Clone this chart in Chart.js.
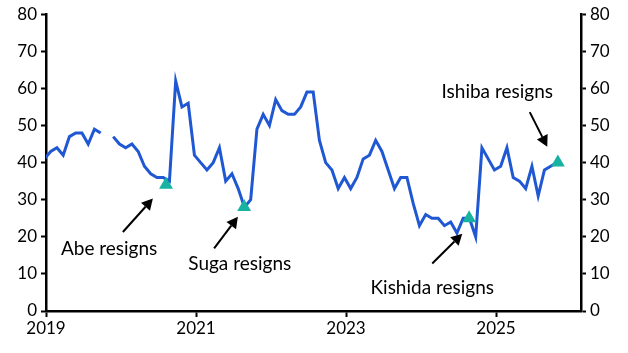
<!DOCTYPE html>
<html>
<head>
<meta charset="utf-8">
<script src="https://cdn.jsdelivr.net/npm/chart.js@4.4.1/dist/chart.umd.min.js"></script>
<style>
  html, body { margin: 0; padding: 0; background: #fff; }
  #wrap { width: 628px; height: 353px; }
</style>
</head>
<body>
<div id="wrap"><canvas id="grafica"></canvas></div>
<script>
// x axis in months since Jan 2019, polls plotted late in their month
const firstMonth = -1;      // Dec 2018
const dayOffset = 0.75;
const approval = [
    41, 43, 44, 42, 47, 48, 48, 45, 49, 48, null, 47, 45,
    44, 45, 43, 39, 37, 36, 36, 35, 62, 55, 56, 42,
    40, 38, 40, 44, 35, 37, 33, 28, 30, 49, 53, 50,
    57, 54, 53, 53, 55, 59, 59, 46, 40, 38, 33, 36,
    33, 36, 41, 42, 46, 43, 38, 33, 36, 36, 29, 23,
    26, 25, 25, 23, 24, 21, 25, 25, 20, 44, 41, 38,
    39, 44, 36, 35, 33, 39, 31, 38, 39, 40
];

const eventos = ["Abe resigns", "Suga resigns", "Kishida resigns", "Ishiba resigns"];
const eventoX = [19.2, 31.7, 67.7, 81.9];
const eventoY = [34, 28, 25, 40];
// label centre and arrow (tail -> tip) in chart units
const textoX = [10.1, 31.0, 61.8, 72.2];
const textoY = [16.7, 12.6, 6.3, 59];
const flechas = [
    [12.3, 21.3, 17.1, 30.3],
    [26.9, 16.9, 30.7, 25.4],
    [61.8, 12.8, 66.6, 20.8],
    [77.4, 53.6, 80.2, 44.3]
];

const yearTicks = [0, 24, 48, 72];
const yearLabels = ["2019", "2021", "2023", "2025"];

const serie = approval.map((v, i) => ({ x: firstMonth + i + dayOffset, y: v }));
const marcas = eventoX.map((x, i) => ({ x: x, y: eventoY[i] }));

const fuente = "Lato, 'Open Sans', sans-serif";

const anotaciones = {
    id: "anotaciones",
    afterDatasetsDraw(chart) {
        const ctx = chart.ctx;
        const sx = chart.scales.x;
        const sy = chart.scales.y;
        ctx.save();
        ctx.fillStyle = "#000";
        ctx.strokeStyle = "#000";
        ctx.font = "19px " + fuente;
        ctx.textAlign = "center";
        ctx.textBaseline = "middle";
        eventos.forEach((t, i) => {
            ctx.fillText(t, sx.getPixelForValue(textoX[i]), sy.getPixelForValue(textoY[i]));
            const f = flechas[i];
            const x1 = sx.getPixelForValue(f[0]), y1 = sy.getPixelForValue(f[1]);
            const x2 = sx.getPixelForValue(f[2]), y2 = sy.getPixelForValue(f[3]);
            const ang = Math.atan2(y2 - y1, x2 - x1);
            const largo = 11, ancho = 6;
            const bx = x2 - largo * Math.cos(ang), by = y2 - largo * Math.sin(ang);
            ctx.lineWidth = 2;
            ctx.beginPath();
            ctx.moveTo(x1, y1);
            ctx.lineTo(bx, by);
            ctx.stroke();
            ctx.beginPath();
            ctx.moveTo(x2, y2);
            ctx.lineTo(bx + ancho * Math.sin(ang), by - ancho * Math.cos(ang));
            ctx.lineTo(bx - ancho * Math.sin(ang), by + ancho * Math.cos(ang));
            ctx.closePath();
            ctx.fill();
        });
        ctx.restore();
    }
};

const ejeY = {
    min: 0,
    max: 80,
    grid: { drawOnChartArea: false, drawTicks: true, tickLength: 5, tickWidth: 2, color: "#000" },
    border: { display: true, color: "#000", width: 2.5 },
    ticks: { stepSize: 10, color: "#000", font: { size: 17, family: fuente }, padding: 4 }
};

new Chart(document.getElementById("grafica").getContext("2d"), {
    type: "line",
    data: {
        datasets: [{
            label: "Eventos",
            data: marcas,
            showLine: false,
            pointStyle: "triangle",
            pointRadius: 8,
            pointBackgroundColor: "#17b2a2",
            pointBorderColor: "#17b2a2",
            pointBorderWidth: 0,
            order: 0
        }, {
            label: "Approval",
            data: serie,
            borderColor: "#1f58d2",
            borderWidth: 3,
            pointRadius: 0,
            tension: 0,
            spanGaps: false,
            order: 1
        }]
    },
    options: {
        responsive: true,
        maintainAspectRatio: false,
        animation: false,
        layout: { padding: { top: 9, bottom: 0, left: 0, right: 0 } },
        plugins: { legend: { display: false }, tooltip: { enabled: false } },
        scales: {
            x: {
                type: "linear",
                min: 0,
                max: 85.6,
                afterBuildTicks(scale) {
                    scale.ticks = yearTicks.map(v => ({ value: v }));
                },
                grid: { drawOnChartArea: false, drawTicks: true, tickLength: 6, tickWidth: 2, color: "#000" },
                border: { display: true, color: "#000", width: 2.5 },
                ticks: {
                    color: "#000",
                    font: { size: 17, family: fuente },
                    maxRotation: 0,
                    autoSkip: false,
                    padding: 1,
                    callback: (v) => yearLabels[yearTicks.indexOf(v)]
                },
                afterFit(scale) { scale.height = 42; }
            },
            y: Object.assign({ position: "left", afterFit(scale) { scale.width = 46; } }, ejeY),
            y2: Object.assign({ position: "right", afterFit(scale) { scale.width = 47; } }, ejeY)
        }
    },
    plugins: [anotaciones]
});
</script>
</body>
</html>
